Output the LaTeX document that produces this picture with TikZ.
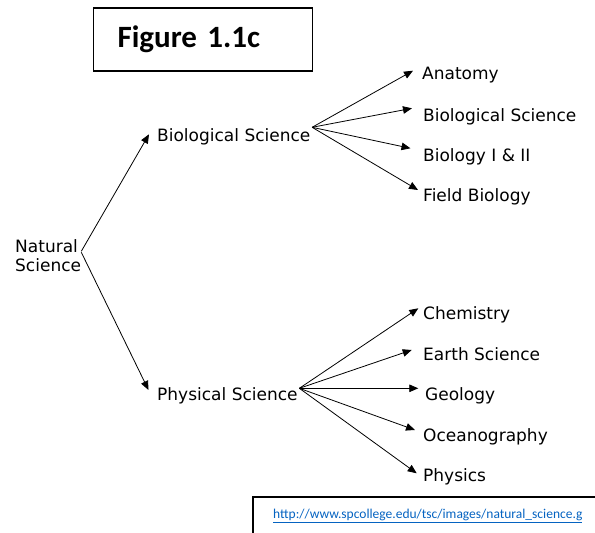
\documentclass[tikz,border=0pt]{standalone}
\usepackage{fontspec}
\setmainfont{DejaVu Sans}
\newfontfamily\carlito{Carlito}
\usetikzlibrary{arrows.meta}
\definecolor{linkblue}{HTML}{0563C1}
\begin{document}
\begin{tikzpicture}[x=1pt,y=-1pt,
  lbl/.style={anchor=base west, inner sep=0pt, font=\fontsize{17}{19}\selectfont},
  arr/.style={-{Triangle[length=9pt,width=7.5pt]}, line width=0.8pt}]
\useasboundingbox (0,0) rectangle (595,533);
% title box
\node[draw, line width=1.2pt, anchor=west, inner xsep=24pt, text width=171pt,
      align=left, minimum height=63pt, font=\carlito\bfseries\fontsize{31}{36}\selectfont]
      (fig) at (93,39.5) {Figure 1.1c};
% nodes
\node[lbl, anchor=north west, align=left] (nat) at (15,239) {Natural\\Science};
\node[lbl] (bio) at (157,141) {Biological Science};
\node[lbl] (phy) at (157,400) {Physical Science};
\node[lbl] (anat) at (422,79.3) {Anatomy};
\node[lbl] (bios) at (423,121) {Biological Science};
\node[lbl] (biol) at (423,161) {Biology I \& II};
\node[lbl] (field) at (423,201) {Field Biology};
\node[lbl] (chem) at (423,319.3) {Chemistry};
\node[lbl] (earth) at (423,360) {Earth Science};
\node[lbl] (geo) at (425,400) {Geology};
\node[lbl] (ocean) at (423,441.7) {Oceanography};
\node[lbl] (phys) at (423,481.7) {Physics};
% connectors
\draw[arr] ([yshift=4pt]nat.east) -- ([xshift=-8pt,yshift=6.7pt]bio.base west);
\draw[arr] ([yshift=3pt]nat.east) -- ([xshift=-8.5pt,yshift=10pt]phy.base west);
\draw[arr] ([xshift=1.5pt,yshift=13.7pt]bio.base east) -- ([xshift=-9pt,yshift=8.6pt]anat.base west);
\draw[arr] ([xshift=1.5pt,yshift=13.7pt]bio.base east) -- ([xshift=-11pt,yshift=12.7pt]bios.base west);
\draw[arr] ([xshift=1.5pt,yshift=13.7pt]bio.base east) -- ([xshift=-12.5pt,yshift=12.7pt]biol.base west);
\draw[arr] ([xshift=1.5pt,yshift=13.7pt]bio.base east) -- ([xshift=-5pt,yshift=11pt]field.base west);
\draw[arr] ([xshift=1.5pt,yshift=11.7pt]phy.base east) -- ([xshift=-4.7pt,yshift=11pt]chem.base west);
\draw[arr] ([xshift=1.5pt,yshift=11.7pt]phy.base east) -- ([xshift=-11.3pt,yshift=10pt]earth.base west);
\draw[arr] ([xshift=1.5pt,yshift=11.7pt]phy.base east) -- ([xshift=-6.7pt,yshift=11.7pt]geo.base west);
\draw[arr] ([xshift=1.5pt,yshift=11.7pt]phy.base east) -- ([xshift=-8pt,yshift=11.7pt]ocean.base west);
\draw[arr] ([xshift=1.5pt,yshift=11.7pt]phy.base east) -- ([xshift=-6.3pt,yshift=8.4pt]phys.base west);
% source box
\node[anchor=base west, inner sep=0pt, text=linkblue, font=\carlito\fontsize{13.5}{15}\selectfont]
      (link) at (273,518) {\underline{http://www.spcollege.edu/tsc/images/natural\_science.g}};
\coordinate (lbA) at (253,534);
\coordinate (lbB) at (253,497);
\coordinate (lbC) at (596,497);
\draw[line width=1.2pt] (lbA) -- (lbB) -- (lbC);
\end{tikzpicture}
\end{document}
